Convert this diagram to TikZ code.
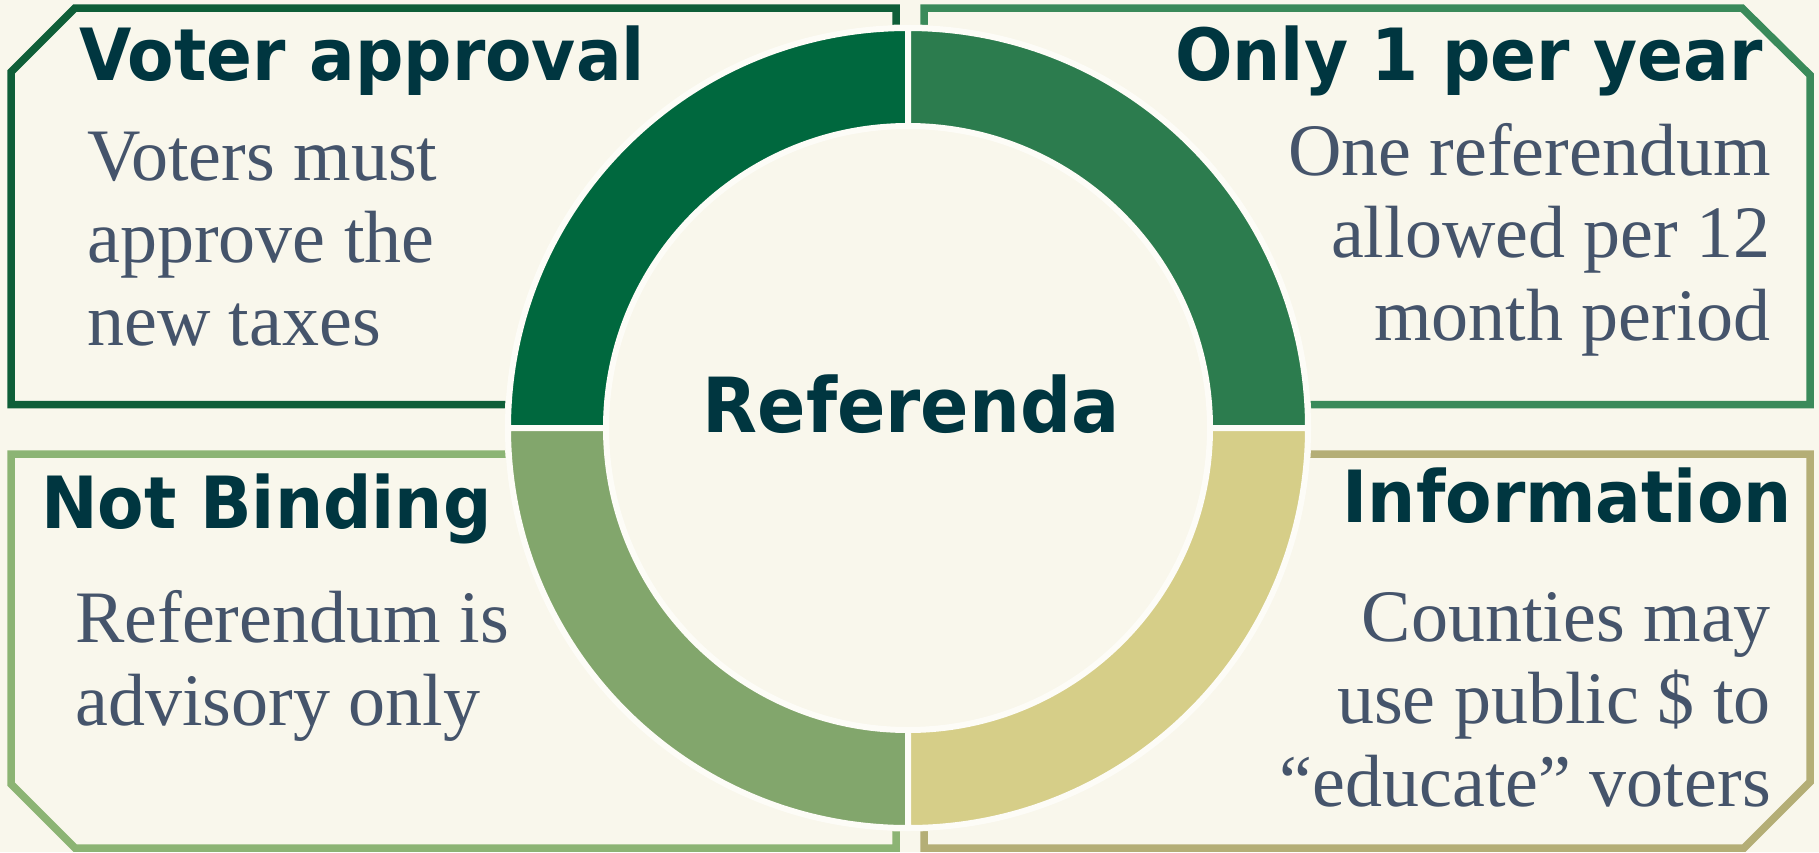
\documentclass[tikz,border=0pt]{standalone}
\usepackage{fontspec}
\setmainfont{Liberation Serif}
\newfontfamily\headfont[FakeStretch=0.94]{DejaVu Sans}

\definecolor{paper}{RGB}{249, 247, 236}
\definecolor{gapwhite}{RGB}{253, 252, 247}
\definecolor{headblue}{RGB}{0, 54, 64}
\definecolor{bodyslate}{RGB}{69, 84, 107}
\definecolor{darkgreen}{RGB}{0, 104, 62}
\definecolor{midgreen}{RGB}{44, 124, 78}
\definecolor{sage}{RGB}{130, 166, 108}
\definecolor{straw}{RGB}{214, 206, 136}
\definecolor{darkgreenline}{RGB}{14, 94, 56}
\definecolor{midgreenline}{RGB}{58, 138, 90}
\definecolor{sageline}{RGB}{140, 180, 116}
\definecolor{strawline}{RGB}{180, 174, 118}

\tikzset{
  panel/.style={draw=#1, line width=7.5pt, line join=miter},
  head/.style={inner sep=0pt, text=headblue, font=\headfont\bfseries\fontsize{72}{80}\selectfont},
  body/.style={inner sep=0pt, text=bodyslate, font=\fontsize{74}{82.5}\selectfont},
  quarter/.style={fill=#1, draw=gapwhite, line width=6pt}
}

\begin{document}
\begin{tikzpicture}[x=1pt, y=1pt]
			\useasboundingbox[fill=paper] (0,0) rectangle (1819,-852);
			\coordinate (c) at (908,-428);
			
			% Panels
			\draw[panel=darkgreenline] (75,-8) -- (896,-8) -- (896,-404.5) -- (11,-404.5) -- (11,-72) -- cycle;
			\draw[panel=midgreenline] (924,-8) -- (1742,-8) -- (1810,-75) -- (1810,-404.5) -- (924,-404.5) -- cycle;
			\draw[panel=sageline] (11,-454) -- (896,-454) -- (896,-848) -- (75,-848) -- (11,-784) -- cycle;
			\draw[panel=strawline] (924,-454) -- (1810,-454) -- (1810,-782) -- (1744,-848) -- (924,-848) -- cycle;
			
			% Ring
			\fill[paper] (c) circle[radius=403.5];
			\foreach \a/\col in {90/darkgreen, 0/midgreen, 180/sage, 270/straw}
				\filldraw[quarter=\col] ([shift={(\a:400)}]c) arc[start angle=\a, delta angle=90, radius=400]
					-- ([shift={(\a+90:302)}]c) arc[start angle=\a+90, delta angle=-90, radius=302] -- cycle;
			
			% Headings
			\node[head, anchor=base, font=\headfont\bfseries\fontsize{76}{80}\selectfont] (hub) at (911,-432) {Referenda};
			\node[head, anchor=base west] (approval) at (79,-80) {Voter approval};
			\node[head, anchor=base east] (peryear) at (1763,-80) {Only 1 per year};
			\node[head, anchor=base west] (binding) at (41,-528) {Not Binding};
			\node[head, anchor=base east] (info) at (1792,-522) {Information};
			
			% Body texts (anchored at the last line)
			\node[body, anchor=base west, align=left] (approvaltxt) at (87,-345) {Voters must\\approve the\\new taxes};
			\node[body, anchor=base east, align=right] (peryeartxt) at (1771,-340) {One referendum\\allowed per 12\\month period};
			\node[body, anchor=base west, align=left] (bindingtxt) at (75,-725) {Referendum is\\advisory only};
			\node[body, anchor=base east, align=right] (infotxt) at (1771,-806) {Counties may\\use public \$ to\\``educate'' voters};
		\end{tikzpicture}
\end{document}
